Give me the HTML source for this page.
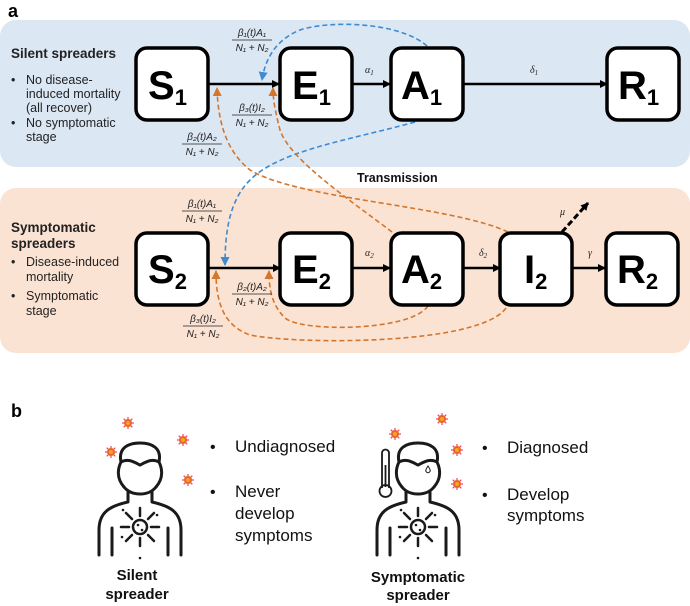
<!DOCTYPE html>
<html><head><meta charset="utf-8"><style>
html,body{margin:0;padding:0;background:#fff}
svg{display:block}
text{font-family:"Liberation Sans",sans-serif}
.m{font-family:"Liberation Serif",serif;font-style:italic;font-size:10px;fill:#222}
.box{fill:#fff;stroke:#000;stroke-width:3.5}
.bl{font-family:"Liberation Sans",sans-serif;font-weight:bold;font-size:40px}
.sub{font-family:"Liberation Sans",sans-serif;font-weight:bold;font-size:22px}
.t{font-size:12.5px;fill:#222}
.ob{fill:none;stroke:#d4762b;stroke-width:1.6;stroke-dasharray:5,3}
.bb{fill:none;stroke:#3f8ad0;stroke-width:1.6;stroke-dasharray:5,3}
.ln{stroke:#000;stroke-width:2.5}
.p{fill:none;stroke:#1a1a1a;stroke-width:3;stroke-linecap:round;stroke-linejoin:round}
</style></head><body>
<svg width="690" height="606" viewBox="0 0 690 606" xmlns="http://www.w3.org/2000/svg">
<defs>
<marker id="ak" markerWidth="8" markerHeight="8" refX="7" refY="4" orient="auto" markerUnits="userSpaceOnUse"><path d="M0,0 L8,4 L0,8 z" fill="#000"/></marker>
<marker id="ao" markerWidth="9" markerHeight="9" refX="8" refY="4.5" orient="auto" markerUnits="userSpaceOnUse"><path d="M0,0 L9,4.5 L0,9 z" fill="#d4762b"/></marker>
<marker id="ab" markerWidth="9" markerHeight="9" refX="8" refY="4.5" orient="auto" markerUnits="userSpaceOnUse"><path d="M0,0 L9,4.5 L0,9 z" fill="#3f8ad0"/></marker>
<g id="vir">
<g stroke="#f0406a" stroke-width="1.2">
<line x1="-6" y1="0" x2="6" y2="0"/><line x1="0" y1="-6" x2="0" y2="6"/>
<line x1="-4.3" y1="-4.3" x2="4.3" y2="4.3"/><line x1="-4.3" y1="4.3" x2="4.3" y2="-4.3"/>
</g>
<circle r="4" fill="#e8652a"/><circle r="2" fill="#f5a623"/>
</g>
<g id="person">
<path class="p" d="M124,487 C116,478 118,468 121,462 C118,448 128,443 140,443 C152,443 162,448 159,462 C162,468 164,478 156,487"/>
<path class="p" d="M121,462 C128,458 134,462 140,465 C146,462 152,458 159,462"/>
<path class="p" d="M124,487 C128,492 134,494 140,494 C146,494 152,492 156,487"/>
<path class="p" d="M128,492 L128,502 C110,506 99,512 99,530 L99,555"/>
<path class="p" d="M152,492 L152,502 C170,506 181,512 181,530 L181,555"/>
<line class="p" x1="112" y1="528" x2="112" y2="555"/>
<line class="p" x1="168" y1="528" x2="168" y2="555"/>
<circle cx="140" cy="527" r="7" fill="none" stroke="#1a1a1a" stroke-width="2.5"/>
<g stroke="#1a1a1a" stroke-width="2.5" stroke-linecap="round">
<line x1="140" y1="516" x2="140" y2="508"/><line x1="140" y1="538" x2="140" y2="546"/>
<line x1="129" y1="527" x2="121" y2="527"/><line x1="151" y1="527" x2="159" y2="527"/>
<line x1="132" y1="519" x2="126" y2="513"/><line x1="148" y1="535" x2="154" y2="541"/>
<line x1="132" y1="535" x2="126" y2="541"/><line x1="148" y1="519" x2="154" y2="513"/>
</g>
<circle cx="138" cy="525" r="1.3" fill="#1a1a1a"/><circle cx="142" cy="530" r="1.3" fill="#1a1a1a"/>
<circle cx="123" cy="510" r="1.3" fill="#1a1a1a"/><circle cx="157" cy="515" r="1.3" fill="#1a1a1a"/><circle cx="122" cy="537" r="1.3" fill="#1a1a1a"/><circle cx="140" cy="558" r="1.3" fill="#1a1a1a"/>
</g>
</defs>

<text x="8" y="17" font-weight="bold" font-size="18">a</text>
<rect x="0" y="20" width="690" height="147" rx="16" fill="#dce7f4"/>
<rect x="0" y="188" width="690" height="165" rx="16" fill="#fbe3d4"/>

<text x="11" y="58" font-weight="bold" font-size="13.5" fill="#222">Silent spreaders</text>
<text class="t" x="11" y="84">•</text><text class="t" x="26" y="84">No disease-</text>
<text class="t" x="26" y="98">induced mortality</text>
<text class="t" x="26" y="112">(all recover)</text>
<text class="t" x="11" y="127">•</text><text class="t" x="26" y="127">No symptomatic</text>
<text class="t" x="26" y="141">stage</text>

<text x="11" y="232" font-weight="bold" font-size="13.5" fill="#222">Symptomatic</text>
<text x="11" y="248" font-weight="bold" font-size="13.5" fill="#222">spreaders</text>
<text class="t" x="11" y="266">•</text><text class="t" x="26" y="266">Disease-induced</text>
<text class="t" x="26" y="281">mortality</text>
<text class="t" x="11" y="300">•</text><text class="t" x="26" y="300">Symptomatic</text>
<text class="t" x="26" y="315">stage</text>

<text x="357" y="182" font-weight="bold" font-size="12.5" fill="#111">Transmission</text>

<line class="ln" x1="208" y1="84" x2="279" y2="84" marker-end="url(#ak)"/>
<line class="ln" x1="353" y1="84" x2="390" y2="84" marker-end="url(#ak)"/>
<line class="ln" x1="463" y1="84" x2="607" y2="84" marker-end="url(#ak)"/>
<text class="m" x="365" y="73">α<tspan font-size="7" dy="2">1</tspan></text>
<text class="m" x="530" y="73">δ<tspan font-size="7" dy="2">1</tspan></text>

<line class="ln" x1="209" y1="268" x2="280" y2="268" marker-end="url(#ak)"/>
<line class="ln" x1="352" y1="268" x2="390" y2="268" marker-end="url(#ak)"/>
<line class="ln" x1="463" y1="268" x2="500" y2="268" marker-end="url(#ak)"/>
<line class="ln" x1="572" y1="268" x2="605" y2="268" marker-end="url(#ak)"/>
<text class="m" x="365" y="256">α<tspan font-size="7" dy="2">2</tspan></text>
<text class="m" x="479" y="256">δ<tspan font-size="7" dy="2">2</tspan></text>
<text class="m" x="588" y="256">γ</text>
<text class="m" x="560" y="215">μ</text>
<line x1="562" y1="232" x2="588" y2="203" stroke="#000" stroke-width="3" stroke-dasharray="6,3" marker-end="url(#ak)"/>

<path class="bb" d="M427,46 C400,22 330,20 300,30 C275,40 265,60 262,80" marker-end="url(#ab)"/>
<path class="bb" d="M415,122 C350,140 280,150 250,180 C230,200 225,230 225,265" marker-end="url(#ab)"/>
<path class="ob" d="M508,232 C450,205 300,200 250,170 C225,150 218,120 217,88" marker-end="url(#ao)"/>
<path class="ob" d="M392,232 C350,200 290,160 280,130 C275,110 273,100 273,88" marker-end="url(#ao)"/>
<path class="ob" d="M506,308 C480,345 300,345 250,335 C222,325 216,300 216,271" marker-end="url(#ao)"/>
<path class="ob" d="M428,306 C410,332 300,332 285,318 C272,305 269,290 269,271" marker-end="url(#ao)"/>

<rect class="box" x="136" y="48" width="72" height="72" rx="11"/>
<rect class="box" x="280" y="48" width="72" height="72" rx="11"/>
<rect class="box" x="391" y="48" width="72" height="72" rx="11"/>
<rect class="box" x="607" y="48" width="72" height="72" rx="11"/>
<rect class="box" x="136" y="233" width="72" height="72" rx="11"/>
<rect class="box" x="280" y="233" width="72" height="72" rx="11"/>
<rect class="box" x="391" y="233" width="72" height="72" rx="11"/>
<rect class="box" x="500" y="233" width="72" height="72" rx="11"/>
<rect class="box" x="606" y="233" width="72" height="72" rx="11"/>

<text x="148" y="99" class="bl">S<tspan class="sub" dy="6">1</tspan></text>
<text x="292" y="99" class="bl">E<tspan class="sub" dy="6">1</tspan></text>
<text x="401" y="99" class="bl">A<tspan class="sub" dy="6">1</tspan></text>
<text x="618" y="99" class="bl">R<tspan class="sub" dy="6">1</tspan></text>
<text x="148" y="283" class="bl">S<tspan class="sub" dy="6">2</tspan></text>
<text x="292" y="283" class="bl">E<tspan class="sub" dy="6">2</tspan></text>
<text x="401" y="283" class="bl">A<tspan class="sub" dy="6">2</tspan></text>
<text x="524" y="283" class="bl">I<tspan class="sub" dy="6">2</tspan></text>
<text x="617" y="283" class="bl">R<tspan class="sub" dy="6">2</tspan></text>

<g class="m" text-anchor="middle">
<text x="252" y="36">β₁(t)A₁</text><line x1="232" y1="40" x2="272" y2="40" stroke="#222" stroke-width="0.8"/><text x="252" y="51">N₁ + N₂</text>
<text x="252" y="111">β₃(t)I₂</text><line x1="232" y1="115" x2="272" y2="115" stroke="#222" stroke-width="0.8"/><text x="252" y="126">N₁ + N₂</text>
<text x="202" y="140">β₂(t)A₂</text><line x1="182" y1="144" x2="222" y2="144" stroke="#222" stroke-width="0.8"/><text x="202" y="155">N₁ + N₂</text>
<text x="202" y="207">β₁(t)A₁</text><line x1="182" y1="211" x2="222" y2="211" stroke="#222" stroke-width="0.8"/><text x="202" y="222">N₁ + N₂</text>
<text x="252" y="290">β₂(t)A₂</text><line x1="232" y1="294" x2="272" y2="294" stroke="#222" stroke-width="0.8"/><text x="252" y="305">N₁ + N₂</text>
<text x="203" y="322">β₃(t)I₂</text><line x1="183" y1="326" x2="223" y2="326" stroke="#222" stroke-width="0.8"/><text x="203" y="337">N₁ + N₂</text>
</g>

<text x="11" y="417" font-weight="bold" font-size="18">b</text>
<use href="#person"/>
<use href="#vir" x="128" y="423"/><use href="#vir" x="111" y="452"/><use href="#vir" x="183" y="440"/><use href="#vir" x="188" y="480"/>
<text x="210" y="452" font-size="16" fill="#111">•</text>
<text x="235" y="452" font-size="17" fill="#111">Undiagnosed</text>
<text x="210" y="497" font-size="16" fill="#111">•</text>
<text x="235" y="497" font-size="17" fill="#111">Never</text>
<text x="235" y="519" font-size="17" fill="#111">develop</text>
<text x="235" y="541" font-size="17" fill="#111">symptoms</text>
<text x="137" y="580" font-weight="bold" font-size="15" text-anchor="middle" fill="#111">Silent</text>
<text x="137" y="599" font-weight="bold" font-size="15" text-anchor="middle" fill="#111">spreader</text>

<use href="#person" x="278"/>
<use href="#vir" x="395" y="434"/><use href="#vir" x="442" y="419"/><use href="#vir" x="457" y="450"/><use href="#vir" x="457" y="484"/>
<g fill="none" stroke="#1a1a1a" stroke-width="1.8">
<path d="M382,488 L382,453 a3.5,3.5 0 0 1 7,0 L389,488"/>
<circle cx="385.5" cy="491" r="6"/>
<line x1="385.5" y1="465" x2="385.5" y2="487"/>
</g>
<path d="M428,466 c-2,3 -3,5 -1.5,6 a1.8,1.8 0 0 0 3,0 c1.5,-1 0.5,-3 -1.5,-6z" fill="none" stroke="#1a1a1a" stroke-width="1"/>
<text x="482" y="453" font-size="16" fill="#111">•</text>
<text x="507" y="453" font-size="17" fill="#111">Diagnosed</text>
<text x="482" y="500" font-size="16" fill="#111">•</text>
<text x="507" y="500" font-size="17" fill="#111">Develop</text>
<text x="507" y="521" font-size="17" fill="#111">symptoms</text>
<text x="418" y="582" font-weight="bold" font-size="15" text-anchor="middle" fill="#111">Symptomatic</text>
<text x="418" y="600" font-weight="bold" font-size="15" text-anchor="middle" fill="#111">spreader</text>
</svg>
</body></html>
